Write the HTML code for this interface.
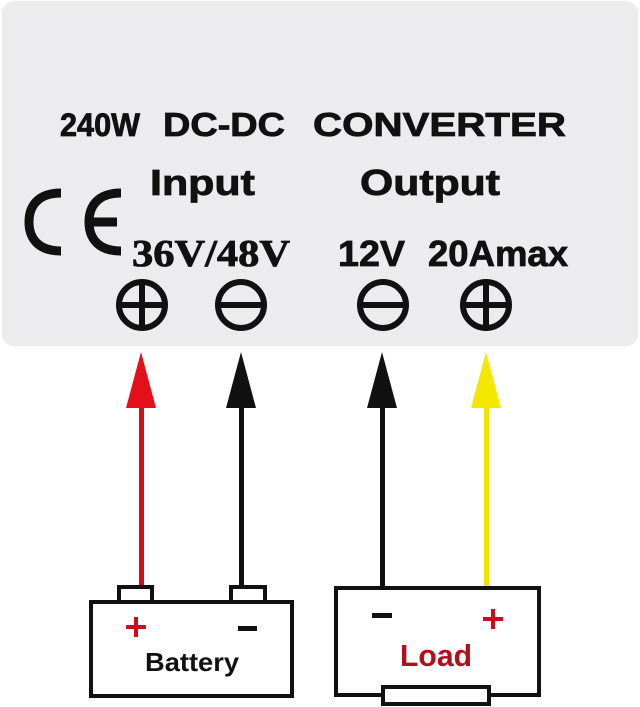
<!DOCTYPE html>
<html><head><meta charset="utf-8"><style>
html,body{margin:0;padding:0;background:#fff;}
svg{display:block}
</style></head><body>
<svg width="640" height="707" viewBox="0 0 640 707" xmlns="http://www.w3.org/2000/svg">
<rect x="0" y="0" width="640" height="707" fill="#fff"/>
<rect x="2" y="1" width="636" height="345" rx="12" fill="#ececee"/>
<g font-family="Liberation Sans, sans-serif" font-weight="bold" fill="#111" stroke="#111" stroke-width="0.8">
<text x="60" y="136" font-size="32" textLength="80" lengthAdjust="spacingAndGlyphs">240W</text>
<text x="163" y="136" font-size="33" textLength="122" lengthAdjust="spacingAndGlyphs">DC-DC</text>
<text x="313" y="136" font-size="33" textLength="253" lengthAdjust="spacingAndGlyphs">CONVERTER</text>
<text x="150" y="195" font-size="36" textLength="105" lengthAdjust="spacingAndGlyphs">Input</text>
<text x="360" y="195" font-size="36" textLength="140" lengthAdjust="spacingAndGlyphs">Output</text>
<text x="338" y="266" font-size="36" textLength="67" lengthAdjust="spacingAndGlyphs">12V</text>
<text x="428" y="266" font-size="36" textLength="140" lengthAdjust="spacingAndGlyphs">20Amax</text>
</g>
<text x="132" y="266" font-family="Liberation Serif, serif" font-weight="bold" font-size="38" fill="#111" stroke="#111" stroke-width="0.8" textLength="158" lengthAdjust="spacingAndGlyphs">36V/48V</text>
<!-- CE -->
<g fill="none" stroke="#111" stroke-width="9">
<path d="M61 193 C37 193 29 207 29 222 C29 237 37 251 61 251"/>
<path d="M121 193 C97 193 89 207 89 222 C89 237 97 251 121 251"/>
<line x1="92" y1="222" x2="117" y2="222"/>
</g>
<!-- terminals -->
<g fill="none" stroke="#111" stroke-width="6">
<circle cx="142" cy="305" r="23"/><line x1="119" y1="305" x2="165" y2="305"/><line x1="142" y1="282" x2="142" y2="328"/>
<circle cx="241" cy="305" r="23"/><line x1="218" y1="305" x2="264" y2="305"/>
<circle cx="383" cy="305" r="23"/><line x1="360" y1="305" x2="406" y2="305"/>
<circle cx="486" cy="305" r="23"/><line x1="463" y1="305" x2="509" y2="305"/><line x1="486" y1="282" x2="486" y2="328"/>
</g>
<!-- arrows -->
<g>
<rect x="139" y="400" width="5" height="186" fill="#d0101c"/>
<polygon points="141,352 126,408 156,408" fill="#e3101c"/>
<rect x="239" y="400" width="5" height="186" fill="#111"/>
<polygon points="241,352 226,408 256,408" fill="#111"/>
<rect x="380" y="400" width="5" height="187" fill="#111"/>
<polygon points="382,352 367,408 397,408" fill="#111"/>
<rect x="484" y="400" width="5" height="187" fill="#f2e400"/>
<polygon points="486,352 471,408 501,408" fill="#f5e800"/>
</g>
<!-- battery -->
<g fill="#fff" stroke="#111" stroke-width="4">
<rect x="119" y="587" width="33" height="15"/>
<rect x="231" y="587" width="34" height="15"/>
<rect x="91" y="602" width="201" height="94"/>
</g>
<g fill="#c8101c"><rect x="126" y="625" width="20" height="4"/><rect x="134" y="617" width="4" height="20"/></g>
<rect x="238" y="626" width="19" height="5" fill="#111"/>
<text x="145" y="671" font-family="Liberation Sans, sans-serif" font-weight="bold" font-size="26" fill="#111" textLength="94" lengthAdjust="spacingAndGlyphs">Battery</text>
<!-- load -->
<rect x="336" y="588" width="203" height="107" fill="#fff" stroke="#111" stroke-width="4"/>
<rect x="383" y="687" width="106" height="17" fill="#fff" stroke="#111" stroke-width="4"/>
<rect x="372" y="613" width="20" height="5" fill="#111"/>
<g fill="#c8101c"><rect x="483" y="617" width="20" height="4"/><rect x="491" y="609" width="4" height="20"/></g>
<text x="400" y="666" font-family="Liberation Sans, sans-serif" font-weight="bold" font-size="31" fill="#b0101e" textLength="72" lengthAdjust="spacingAndGlyphs">Load</text>
</svg>
</body></html>
